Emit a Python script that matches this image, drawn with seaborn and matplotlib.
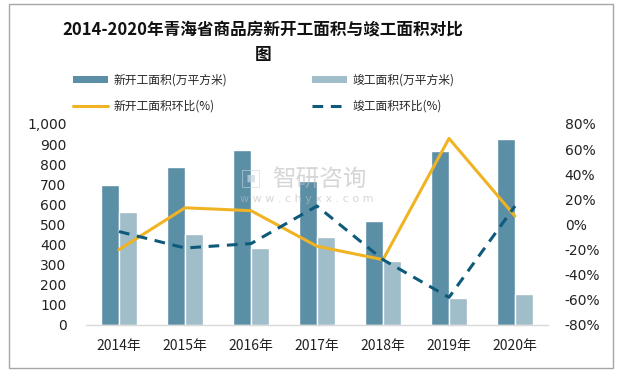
import matplotlib
matplotlib.use("Agg")
import matplotlib.pyplot as plt
import seaborn as sns
import pandas as pd
import numpy as np
from matplotlib.ticker import FuncFormatter, MultipleLocator
from matplotlib.patches import Rectangle
from matplotlib.lines import Line2D
from matplotlib.patches import Patch

years = ["2014年", "2015年", "2016年", "2017年", "2018年", "2019年", "2020年"]
new_area = [695, 785, 870, 717, 515, 865, 925]
done_area = [560, 455, 385, 440, 320, 135, 155]
new_growth = [-20.0, 13.3, 11.0, -17.3, -28.0, 68.5, 6.7]
done_growth = [-5.6, -18.7, -15.2, 14.7, -28.0, -58.0, 14.7]

s_new = "新开工面积(万平方米)"
s_done = "竣工面积(万平方米)"
s_new_g = "新开工面积环比(%)"
s_done_g = "竣工面积环比(%)"

c_new = "#5B8FA6"
c_done = "#A0BDCA"
c_yel = "#F0B323"
c_dash = "#0F5A7A"

sns.set_theme(style="white")
plt.rcParams['font.family'] = ['Noto Sans CJK SC', 'DejaVu Sans']

bars = pd.DataFrame({
    "year": years * 2,
    "value": new_area + done_area,
    "series": [s_new] * len(years) + [s_done] * len(years),
})

fig = plt.figure(figsize=(6.2, 3.71), dpi=100)
ax = fig.add_axes([86 / 620, 1 - 325 / 371, (548 - 86) / 620, (325 - 124) / 371])

sns.barplot(data=bars, x="year", y="value", hue="series", ax=ax,
            palette=[c_new, c_done], width=0.56, saturation=1, legend=False)
ax.set_ylim(0, 1000)
ax.set_xlim(-0.5, len(years) - 0.5)
ax.yaxis.set_major_locator(MultipleLocator(100))
ax.yaxis.set_major_formatter(FuncFormatter(lambda v, p: f"{int(v):,}"))
ax.set_xlabel("")
ax.set_ylabel("")
for s in ["top", "right", "left"]:
    ax.spines[s].set_visible(False)
ax.spines["bottom"].set_color("#D9D9D9")
ax.spines["bottom"].set_linewidth(1)
ax.tick_params(axis="y", labelsize=10, pad=14, length=0, colors="#222222")
ax.tick_params(axis="x", labelsize=10, pad=10, length=0, colors="#222222")
for t in ax.get_yticklabels():
    t.set_fontfamily("DejaVu Sans")

ax2 = ax.twinx()
lines = pd.DataFrame({"x": list(range(len(years))), "ng": new_growth, "dg": done_growth})
sns.lineplot(data=lines, x="x", y="ng", ax=ax2, color=c_yel, linewidth=2.2)
sns.lineplot(data=lines, x="x", y="dg", ax=ax2, color=c_dash, linewidth=2.2,
             linestyle=(0, (3.5, 2.5)))
ax2.set_ylim(-80, 80)
ax2.set_xlim(-0.5, len(years) - 0.5)
ax2.yaxis.set_major_locator(MultipleLocator(20))
ax2.yaxis.set_major_formatter(FuncFormatter(lambda v, p: f"{int(round(v))}%"))
ax2.set_ylabel("")
ax2.set_xlabel("")
for s in ["top", "right", "left", "bottom"]:
    ax2.spines[s].set_visible(False)
ax2.tick_params(axis="y", labelsize=10, pad=12, length=0, colors="#222222")
for t in ax2.get_yticklabels():
    t.set_fontfamily("DejaVu Sans")

# watermark
fig.text(240 / 620, 1 - 180 / 371, "▣", fontsize=16, color="#C9D6E3", alpha=0.7, va="center")
fig.text(272 / 620, 1 - 180 / 371, "智研咨询", fontsize=17, color="#BBBBBB", alpha=0.6, va="center")
fig.text(240 / 620, 1 - 199 / 371, "w w w . c h y x x . c o m", fontsize=8, color="#BBBBBB",
         alpha=0.6, va="center", family="DejaVu Sans")

# title
fig.text(263 / 620, 1 - 30 / 371, "2014-2020年青海省商品房新开工面积与竣工面积对比",
         ha="center", va="center", fontsize=12, fontweight="bold", color="#111111")
fig.text(263 / 620, 1 - 55 / 371, "图", ha="center", va="center", fontsize=12,
         fontweight="bold", color="#111111")

# legend (column-major order so rows read: bars, then lines)
handles = [Patch(facecolor=c_new, edgecolor="none"),
           Line2D([], [], color=c_yel, lw=2.2),
           Patch(facecolor=c_done, edgecolor="none"),
           Line2D([], [], color=c_dash, lw=2.2, linestyle=(0, (3.5, 2.5)))]
labels = [s_new, s_new_g, s_done, s_done_g]
fig.legend(handles, labels, ncol=2, loc="center left", bbox_to_anchor=(62 / 620, 1 - 93.5 / 371),
           frameon=False, fontsize=8.5, handlelength=3.0, handleheight=0.55,
           columnspacing=7.1, labelspacing=1.1, handletextpad=0.5)

# border
fig.patches.append(Rectangle((9 / 620, 3 / 371), 604 / 620, 364 / 371, transform=fig.transFigure,
                             fill=False, edgecolor="#A6A6A6", linewidth=1))

fig.savefig("out.png", dpi=100)
